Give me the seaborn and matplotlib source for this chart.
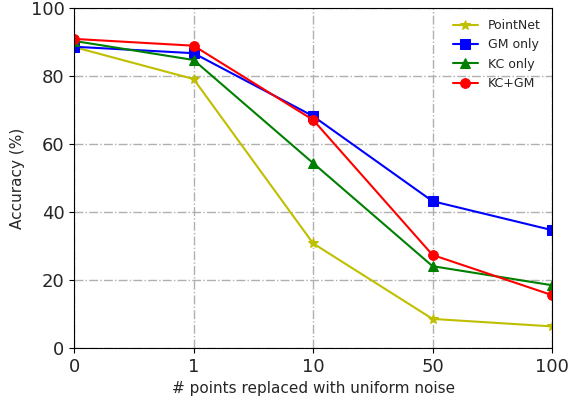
import matplotlib
matplotlib.use("Agg")
import matplotlib.pyplot as plt
import seaborn as sns
import pandas as pd

sns.set_style("ticks")
plt.rcParams['font.family'] = ['DejaVu Sans']

noise = ['0', '1', '10', '50', '100']
pointnet = [88.5, 79.1, 30.8, 8.6, 6.4]
gm_only = [88.6, 86.7, 68.2, 43.2, 34.7]
kc_only = [90.3, 84.7, 54.4, 24.1, 18.5]
kc_gm = [90.9, 88.9, 67.1, 27.4, 15.6]

series = [
    ('PointNet', pointnet, 'y', '*'),
    ('GM only', gm_only, 'b', 's'),
    ('KC only', kc_only, 'g', '^'),
    ('KC+GM', kc_gm, 'r', 'o'),
]

fig, ax = plt.subplots(figsize=(5.75, 3.97), dpi=100)
pos = list(range(len(noise)))
for name, vals, c, m in series:
    df = pd.DataFrame({'x': pos, 'acc': vals})
    sns.lineplot(data=df, x='x', y='acc', ax=ax, color=c, marker=m,
                 markersize=7, markeredgecolor=c, linewidth=1.5, label=name)

ax.set_xlim(0, 4)
ax.set_ylim(0, 100)
ax.set_xticks(pos)
ax.set_xticklabels(noise)
ax.tick_params(labelsize=13, direction='out', color='black')
ax.grid(True, linestyle='-.', color='#b0b0b0', linewidth=1)
for s in ax.spines.values():
    s.set_color('black')
    s.set_visible(True)
ax.set_xlabel('# points replaced with uniform noise', fontsize=11)
ax.set_ylabel('Accuracy (%)', fontsize=11)
ax.legend(loc='upper right', frameon=False, fontsize=9)
fig.subplots_adjust(left=0.129, right=0.96, top=0.98, bottom=0.123)
fig.savefig('out.png', dpi=100)
